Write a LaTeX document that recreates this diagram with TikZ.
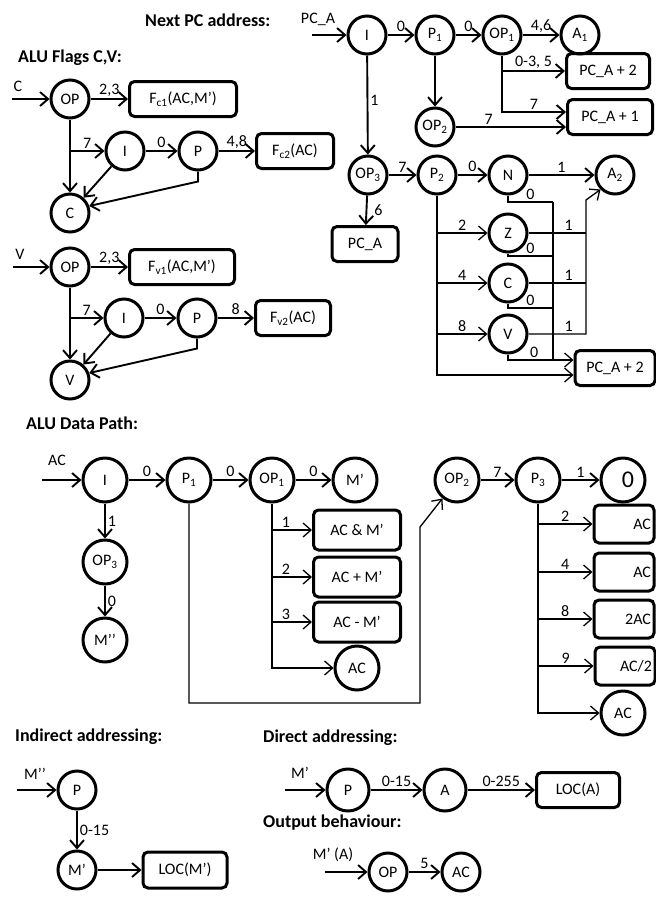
\documentclass[tikz,border=0pt]{standalone}
\usepackage{fontspec}
\setmainfont{Carlito}
\usetikzlibrary{arrows.meta}

\begin{document}
\begin{tikzpicture}[x=1pt,y=-1pt,
        st/.style={circle,draw,line width=3pt,minimum size=38pt,inner sep=1pt,font=\fontsize{16}{18}\selectfont},
        bst/.style={st,minimum size=44pt},
        bx/.style={draw,rounded corners=5pt,line width=3pt,minimum height=35pt,inner sep=3pt,font=\fontsize{16}{18}\selectfont},
        rbx/.style={bx,minimum height=38pt,text width=54pt,align=right},
        lbl/.style={font=\fontsize{16}{18}\selectfont,inner sep=2pt},
        hd/.style={anchor=west,inner sep=0pt,font=\fontsize{18}{20}\selectfont\bfseries},
        arr/.style={-{Straight Barb[length=8pt,width=14pt]},line width=1.9pt},
        thn/.style={line width=1.3pt}]
        \useasboundingbox (0,0) rectangle (656,898);

        % next PC address
        \node[hd] (t1) at (145,20) {Next PC address:};
        \node[lbl] (lpca) at (318,19) {PC\_A};
        \coordinate (pin) at (312,35);
        \node[st] (pi) at (367,35) {I};
        \node[st] (pp1) at (435,35) {P\textsubscript{1}};
        \node[st] (pop1) at (502,35) {OP\textsubscript{1}};
        \node[st] (pa1) at (580,35) {A\textsubscript{1}};
        \node[bx,minimum width=83pt] (ppc2) at (608,71) {PC\_A + 2};
        \node[bx,minimum width=85pt] (ppc1) at (610,117) {PC\_A + 1};
        \node[st] (pop2) at (435,127) {OP\textsubscript{2}};
        \node[st] (pop3) at (368,175) {OP\textsubscript{3}};
        \node[bx,minimum width=66pt] (ppc) at (365,244) {PC\_A};
        \node[st] (pp2) at (437,175) {P\textsubscript{2}};
        \node[st] (pn) at (508,175) {N};
        \node[st] (pa2) at (615,175) {A\textsubscript{2}};
        \node[st] (pz) at (508,233) {Z};
        \node[st] (pc) at (508,283) {C};
        \node[st] (pv) at (508,334) {V};
        \node[bx,minimum width=80pt] (ppc3) at (615,368) {PC\_A + 2};

        \draw[arr] (pin) -- (pi);
        \draw[arr] (pi) -- node[lbl,above]{0} (pp1);
        \draw[arr] (pp1) -- node[lbl,above]{0} (pop1);
        \draw[arr] (pop1) -- node[lbl,above]{4,6} (pa1);
        \draw[arr] (pp1) -- (pop2);
        \draw[arr] (pop1) |- node[lbl,above,pos=0.75]{0-3, 5} (ppc2);
        \coordinate (ppc1a) at ([yshift=5pt]ppc1.west);
        \draw[arr] (pop1 |- ppc2) |- node[lbl,above,pos=0.75]{7} (ppc1a);
        \draw[arr] (pop2) -- node[lbl,above,pos=0.3]{7} (pop2 -| ppc1.west);
        \draw[arr] (pi) -- node[lbl,right,pos=0.45]{1} (pop3);
        \draw[arr] (pop3) -- node[lbl,above]{7} (pp2);
        \draw[arr] (pp2) -- node[lbl,above]{0} (pn);
        \draw[arr] (pn) -- node[lbl,above]{1} (pa2);
        \draw[arr] (pop3) -- node[lbl,right=5pt]{6} (ppc);

        \draw[arr,thn] (pp2) |- ([yshift=-7pt]ppc3.west);
        \draw[arr,thn] (pp2 |- pz) -- node[lbl,above]{2} (pz);
        \draw[arr,thn] (pp2 |- pc) -- node[lbl,above]{4} (pc);
        \draw[arr,thn] (pp2 |- pv) -- node[lbl,above]{8} (pv);

        \coordinate (b0) at (553,202);
        \coordinate (bz0) at (553,256);
        \coordinate (bc0) at (553,308);
        \coordinate (p3a) at ([yshift=8pt]ppc3.west);
        \draw[thn] (pn) |- node[lbl,above,pos=0.75]{0} (b0);
        \draw[thn] (pz) |- node[lbl,above,pos=0.75]{0} (bz0);
        \draw[thn] (pc) |- node[lbl,above,pos=0.75]{0} (bc0);
        \draw[thn] (b0) -- (b0 |- p3a);
        \draw[arr,thn] (pv) |- node[lbl,above,pos=0.7]{0} (p3a);

        \coordinate (b1) at (586,200);
        \draw[thn] (pz) -- node[lbl,above,pos=0.7]{1} (pz -| b1);
        \draw[thn] (pc) -- node[lbl,above,pos=0.7]{1} (pc -| b1);
        \draw[arr,thn] (pv) -- node[lbl,above,pos=0.7]{1} (pv -| b1) -- (b1) -- (pa2.south west);

        % ALU flags C
        \node[hd] (t2) at (18,58) {ALU Flags C,V:};
        \node[lbl] (lc) at (18,86) {C};
        \coordinate (fin) at (12,99);
        \node[st] (fop) at (70,99) {OP};
        \node[bx,minimum width=107pt] (ffc1) at (183,99) {F\textsubscript{c1}(AC,M’)};
        \node[st] (fi) at (125,151) {I};
        \node[st] (fp) at (198,151) {P};
        \node[bx,minimum width=77pt] (ffc2) at (295,151) {F\textsubscript{c2}(AC)};
        \node[st] (fc) at (70,213) {C};

        \draw[arr] (fin) -- (fop);
        \draw[arr] (fop) -- node[lbl,above]{2,3} (ffc1);
        \draw[arr] (fop) -- (fc);
        \draw[arr] (fop |- fi) -- node[lbl,above]{7} (fi);
        \draw[arr] (fi) -- node[lbl,above]{0} (fp);
        \draw[arr] (fp) -- node[lbl,above]{4,8} (ffc2);
        \draw[arr] (fi) -- (fc);
        \draw[arr] (fp.south) -- ++(0,10) -- (fc.20);

        % ALU flags V
        \node[lbl] (lv) at (20,254) {V};
        \coordinate (vin) at (13,267);
        \node[st] (vop) at (70,267) {OP};
        \node[bx,minimum width=105pt] (vfv1) at (182,267) {F\textsubscript{v1}(AC,M’)};
        \node[st] (vi) at (124,318) {I};
        \node[st] (vp) at (197,318) {P};
        \node[bx,minimum width=75pt] (vfv2) at (293,318) {F\textsubscript{v2}(AC)};
        \node[st] (vv) at (70,380) {V};

        \draw[arr] (vin) -- (vop);
        \draw[arr] (vop) -- node[lbl,above]{2,3} (vfv1);
        \draw[arr] (vop) -- (vv);
        \draw[arr] (vop |- vi) -- node[lbl,above]{7} (vi);
        \draw[arr] (vi) -- node[lbl,above]{0} (vp);
        \draw[arr] (vp) -- node[lbl,above]{8} (vfv2);
        \draw[arr] (vi) -- (vv);
        \draw[arr] (vp.south) -- ++(0,10) -- (vv.20);

        % ALU data path
        \node[hd] (t3) at (26,423) {ALU Data Path:};
        \node[lbl] (lac) at (57,460) {AC};
        \coordinate (din) at (42,480);
        \node[bst] (di) at (105,480) {I};
        \node[bst] (dp1) at (189,480) {P\textsubscript{1}};
        \node[bst] (dop1) at (272,480) {OP\textsubscript{1}};
        \node[bst] (dm) at (355,480) {M’};
        \node[bst] (dop3) at (105,562) {OP\textsubscript{3}};
        \node[bst] (dmm) at (105,640) {M’’};
        \node[bx,minimum width=87pt,minimum height=40pt] (dand) at (357,530) {AC \& M’};
        \node[bx,minimum width=87pt,minimum height=40pt] (dplus) at (357,577) {AC + M’};
        \node[bx,minimum width=87pt,minimum height=40pt] (dminus) at (357,622) {AC - M’};
        \node[bst] (dac) at (357,668) {AC};
        \node[bst] (dop2) at (457,480) {OP\textsubscript{2}};
        \node[bst] (dp3) at (538,480) {P\textsubscript{3}};
        \node[bst] (dz) at (623,480) {\hspace{10pt}\raisebox{-4pt}{\fontsize{24}{24}\selectfont 0}};
        \node[rbx] (dr1) at (624,524) {AC};
        \node[rbx] (dr2) at (624,572) {AC};
        \node[rbx] (dr3) at (624,619) {2AC};
        \node[rbx] (dr4) at (625,666) {AC/2};
        \node[bst] (dr5) at (623,713) {AC};

        \draw[arr] (din) -- (di);
        \draw[arr] (di) -- node[lbl,above]{0} (dp1);
        \draw[arr] (dp1) -- node[lbl,above]{0} (dop1);
        \draw[arr] (dop1) -- node[lbl,above]{0} (dm);
        \draw[arr] (di) -- node[lbl,right]{1} (dop3);
        \draw[arr] (dop3) -- node[lbl,right]{0} (dmm);
        \draw[arr,thn] (dop1) |- (dac);
        \draw[arr,thn] (dop1 |- dand) -- node[lbl,above,pos=0.35]{1} (dand);
        \draw[arr,thn] (dop1 |- dplus) -- node[lbl,above,pos=0.35]{2} (dplus);
        \draw[arr,thn] (dop1 |- dminus) -- node[lbl,above,pos=0.35]{3} (dminus);
        \coordinate (dlp) at (420,703);
        \coordinate (dlq) at (420,527);
        \draw[arr,thn] (dp1) |- (dlp) -- (dlq) -- (dop2);
        \draw[arr] (dop2) -- node[lbl,above]{7} (dp3);
        \draw[arr] (dp3) -- node[lbl,above]{1} (dz);
        \draw[arr,thn] (dp3) |- (dr5);
        \draw[arr,thn] (dp3 |- dr1) -- node[lbl,above]{2} (dr1);
        \draw[arr,thn] (dp3 |- dr2) -- node[lbl,above]{4} (dr2);
        \draw[arr,thn] (dp3 |- dr3) -- node[lbl,above]{8} (dr3);
        \draw[arr,thn] (dp3 |- dr4) -- node[lbl,above]{9} (dr4);

        % indirect addressing
        \node[hd] (t4) at (15,737) {Indirect addressing:};
        \node[lbl] (lmm) at (35,774) {M’’};
        \coordinate (iin) at (17,790);
        \node[st] (ip) at (77,790) {P};
        \node[st] (im) at (77,870) {M’};
        \node[bx,minimum width=84pt,minimum height=36pt] (iloc) at (185,870) {LOC(M’)};
        \draw[arr] (iin) -- (ip);
        \draw[arr] (ip) -- node[lbl,right]{0-15} (im);
        \draw[arr] (im) -- (iloc);

        % direct addressing
        \node[hd] (t5) at (263,738) {Direct addressing:};
        \node[lbl] (lm) at (300,773) {M’};
        \coordinate (xin) at (285,790);
        \node[st,minimum size=42pt] (xp) at (348,790) {P};
        \node[st,minimum size=42pt] (xa) at (445,790) {A};
        \node[bx,minimum width=83pt] (xloc) at (578,790) {LOC(A)};
        \draw[arr] (xin) -- (xp);
        \draw[arr] (xp) -- node[lbl,above]{0-15} (xa);
        \draw[arr] (xa) -- node[lbl,above]{0-255} (xloc);

        % output behaviour
        \node[hd] (t6) at (263,823) {Output behaviour:};
        \node[lbl] (lma) at (333,855) {M’ (A)};
        \coordinate (oin) at (325,872);
        \node[st] (oop) at (388,872) {OP};
        \node[st] (oac) at (461,872) {AC};
        \draw[arr] (oin) -- (oop);
        \draw[arr] (oop) -- node[lbl,above]{5} (oac);
    \end{tikzpicture}
\end{document}
